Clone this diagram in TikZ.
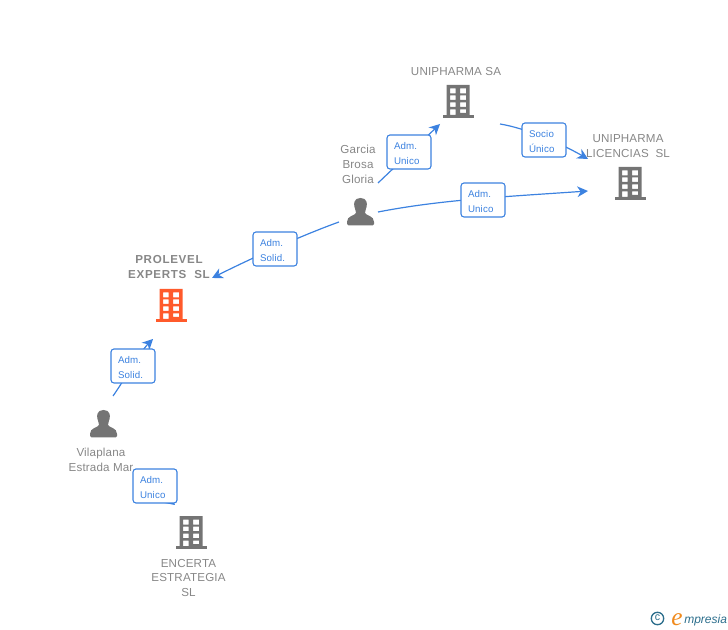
\documentclass[tikz,border=0pt]{standalone}
\usepackage{fontspec}
\setmainfont{Liberation Sans}
\newfontfamily\nmfont[LetterSpace=1.5]{Liberation Sans}
\newfontfamily\bdfont[LetterSpace=6]{Liberation Sans}
\newfontfamily\tgfont[LetterSpace=1.5]{Liberation Sans}
\newcommand{\tagfix}{\rule{0pt}{7.5pt}}
\usetikzlibrary{arrows.meta}
\definecolor{txtgray}{HTML}{878787}
\definecolor{icongray}{HTML}{747474}
\definecolor{linkblue}{HTML}{3C82E0}
\definecolor{hot}{HTML}{FF5A2B}
\definecolor{lgteal}{HTML}{2C6E8C}
\definecolor{lgorange}{HTML}{F08A1D}
\tikzset{
  x=0.75pt,y=-0.75pt,
  link/.style={draw=linkblue,line width=0.9pt,-{Stealth[length=8pt,width=8pt,inset=2.5pt]}},
  tagbox/.style={draw=linkblue,fill=white,line width=0.8pt,rounded corners=2.2pt,text width=22.5pt,inner xsep=5.25pt,inner ysep=0pt,minimum height=25.5pt,align=left,text=linkblue,font=\fontsize{7.3}{11.2}\selectfont\tgfont},
  plainname/.style={text=txtgray,align=center,inner sep=0pt,font=\fontsize{8.7}{11.2}\selectfont\nmfont},
  boldname/.style={text=txtgray,align=center,inner sep=0pt,font=\fontsize{8.7}{11.2}\selectfont\bdfont\bfseries},
  pics/building/.style={code={
    \fill[#1] (-15.5,30) rectangle (15.5,33);
    \fill[#1,even odd rule] (-11.5,0) rectangle (11.5,30)
      (-8,3.5) rectangle (-2.5,8.5) (2,3.5) rectangle (8,8.5)
      (-8,10.5) rectangle (-2.5,15) (2,10.5) rectangle (8,15)
      (-8,17.5) rectangle (-2.5,22) (2,17.5) rectangle (8,22)
      (-8,24.5) rectangle (-2.5,30) (2,24.5) rectangle (8,28);
  }},
  pics/person/.style={code={
    \fill[icongray] (0,0) .. controls (-6.5,0) and (-7,5.5) .. (-6,9)
      .. controls (-5.5,11.5) and (-4.5,13) .. (-4.5,15)
      .. controls (-6,18) and (-13.5,17.5) .. (-13.5,24)
      -- (-13.5,26) .. controls (-13.5,27) and (-13,27.5) .. (-12,27.5)
      -- (12,27.5) .. controls (13,27.5) and (13.5,27) .. (13.5,26) -- (13.5,24)
      .. controls (13.5,17.5) and (6,18) .. (4.5,15)
      .. controls (4.5,13) and (5.5,11.5) .. (6,9)
      .. controls (7,5.5) and (6.5,0) .. (0,0) -- cycle;
  }}
}
\begin{document}
\begin{tikzpicture}
\useasboundingbox (0,0) rectangle (728,630);
% anchors of free connector ends
\coordinate (g1) at (378,183);
\coordinate (us) at (440,124);
\coordinate (u1) at (500,124);
\coordinate (ul1) at (588,159);
\coordinate (g2) at (378,212);
\coordinate (ul2) at (588,191);
\coordinate (g3) at (339,222);
\coordinate (pe) at (212,278);
\coordinate (v1) at (113,396);
\coordinate (pe2) at (153,339);
\coordinate (v2) at (140,478);
\coordinate (en) at (175,505);
% connectors
\draw[link] (g1) -- (us);
\draw[link] (u1) .. controls (525,128) and (560,143) .. (ul1);
\draw[link] (g2) .. controls (440,200) and (500,197) .. (ul2);
\draw[link] (g3) .. controls (300,236) and (250,259) .. (pe);
\draw[link] (v1) .. controls (125,379) and (140,352) .. (pe2);
\draw[link] (v2) -- (en);
% tags
\node[tagbox] (t1) at (409,152) {\tagfix Adm.\\Unico};
\node[tagbox] (t2) at (544,140) {\tagfix Socio\\Único};
\node[tagbox] (t3) at (483,200) {\tagfix Adm.\\Unico};
\node[tagbox] (t4) at (275,249) {\tagfix Adm.\\Solid.};
\node[tagbox] (t5) at (133,366) {\tagfix Adm.\\Solid.};
\node[tagbox] (t6) at (155,486) {\tagfix Adm.\\Unico};
% icons
\path (458,85) pic {building=icongray};
\path (630,167) pic {building=icongray};
\path (171,289) pic {building=hot};
\path (191,516) pic {building=icongray};
\path (360.5,198) pic {person};
\path (103.5,410) pic {person};
% names
\node[plainname] (n1) at (456,71.5) {UNIPHARMA SA};
\node[plainname] (n2) at (628,146.5) {UNIPHARMA\\LICENCIAS\ \ SL};
\node[plainname] (n3) at (358,164) {Garcia\\Brosa\\Gloria};
\node[boldname] (n4) at (169,267) {PROLEVEL\\EXPERTS\ \ SL};
\node[plainname] (n5) at (101,460) {Vilaplana\\Estrada Mar};
\node[plainname] (n6) at (188.5,578) {ENCERTA\\ESTRATEGIA\\SL};
% logo
\draw[lgteal,line width=1pt] (657.5,618.5) circle (6.2);
\node[text=lgteal,inner sep=0pt,font=\fontsize{8}{8}\selectfont] (lc) at (657.5,618) {c};
\node[text=lgorange,inner sep=0pt,anchor=base,font=\fontsize{19}{19}\selectfont\fontspec{Liberation Serif}\itshape] (le) at (677,625) {e};
\node[text=lgteal,inner sep=0pt,anchor=base west,font=\fontsize{9}{10}\selectfont\itshape] (lt) at (684,623) {mpresia};
\end{tikzpicture}
\end{document}
